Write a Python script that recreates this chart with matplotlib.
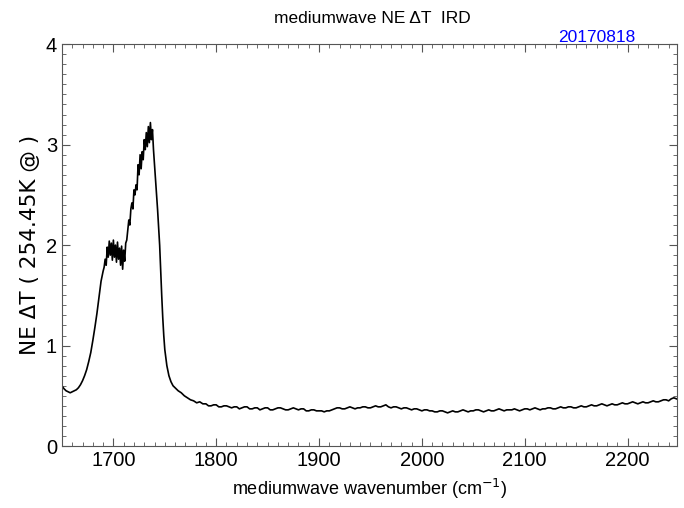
import numpy as np
import matplotlib
matplotlib.use('Agg')
import matplotlib.pyplot as plt
from matplotlib.ticker import MultipleLocator

# wavenumber (cm-1) and NE dT values
wn_peak = [1650, 1652, 1654, 1656, 1658, 1660, 1662, 1664, 1666, 1668, 1670, 1672, 1674, 1676, 1678,
           1680, 1682, 1684, 1686, 1688, 1690,
           1691, 1692, 1693, 1694, 1695, 1696, 1697, 1698, 1699, 1700, 1701, 1702, 1703, 1704, 1705,
           1706, 1707, 1708, 1709, 1710, 1711, 1712, 1713,
           1714, 1715, 1716, 1717, 1718, 1719, 1720, 1721, 1722, 1723, 1724, 1725, 1726, 1727, 1728,
           1729, 1730, 1731, 1732, 1733, 1734, 1735, 1736, 1737, 1738, 1739, 1740, 1741, 1742, 1743,
           1744, 1745, 1746, 1747, 1748, 1749, 1750, 1752, 1754, 1756, 1758, 1760, 1763, 1766, 1769,
           1772, 1775, 1778, 1781, 1784, 1787]
ne_peak = [0.60, 0.57, 0.55, 0.54, 0.53, 0.54, 0.55, 0.56, 0.58, 0.61, 0.65, 0.70, 0.76, 0.84, 0.93,
           1.05, 1.18, 1.32, 1.48, 1.64, 1.74,
           1.78, 1.86, 1.80, 1.98, 1.88, 2.04, 1.90, 2.02, 1.85, 2.05, 1.88, 2.00, 1.83, 2.03, 1.86,
           1.97, 1.80, 1.99, 1.76, 1.95, 1.84, 2.02, 2.05,
           2.15, 2.25, 2.20, 2.36, 2.42, 2.36, 2.55, 2.50, 2.60, 2.55, 2.80, 2.70, 2.90, 2.76, 2.93,
           2.85, 3.05, 2.95, 3.12, 2.98, 3.18, 3.02, 3.22, 3.05, 3.15, 2.95, 2.80, 2.65, 2.50, 2.35,
           2.18, 2.00, 1.75, 1.50, 1.28, 1.10, 0.96, 0.80, 0.70, 0.64, 0.60, 0.58, 0.55, 0.53, 0.50,
           0.48, 0.46, 0.45, 0.43, 0.44, 0.42]

# baseline, 5 cm-1 grid
wn_base = list(range(1790, 2255, 5))
ne_base = [0.42, 0.40, 0.41, 0.39, 0.40, 0.38, 0.39, 0.38, 0.39, 0.37, 0.38, 0.37, 0.38, 0.36, 0.38,
           0.37, 0.36, 0.38, 0.36, 0.37, 0.35, 0.36, 0.35, 0.34, 0.35, 0.37, 0.38, 0.37, 0.39, 0.37,
           0.38, 0.39, 0.38, 0.40, 0.39, 0.41, 0.38, 0.39, 0.37, 0.38, 0.36, 0.37, 0.35, 0.36, 0.35,
           0.34, 0.35, 0.33, 0.35, 0.34, 0.36, 0.34, 0.35, 0.36, 0.34, 0.36, 0.35, 0.37, 0.35, 0.36,
           0.37, 0.35, 0.37, 0.36, 0.38, 0.36, 0.37, 0.38, 0.37, 0.39, 0.38, 0.39, 0.38, 0.40, 0.39,
           0.41, 0.40, 0.42, 0.40, 0.42, 0.41, 0.43, 0.42, 0.44, 0.42, 0.44, 0.43, 0.45, 0.44, 0.46,
           0.45, 0.48, 0.46]
# baseline, in-between points (small noise spikes)
wn_mid = [w + 2.5 for w in range(1790, 2250, 5)]
ne_mid = [0.40, 0.41, 0.39, 0.40, 0.39, 0.39, 0.37, 0.39, 0.37, 0.38, 0.36, 0.38, 0.36, 0.37, 0.38,
          0.36, 0.37, 0.37, 0.37, 0.35, 0.36, 0.35, 0.35, 0.35, 0.36, 0.38, 0.37, 0.38, 0.38, 0.38,
          0.39, 0.38, 0.39, 0.39, 0.40, 0.39, 0.39, 0.38, 0.38, 0.37, 0.37, 0.36, 0.36, 0.35, 0.34,
          0.35, 0.34, 0.34, 0.34, 0.35, 0.35, 0.35, 0.36, 0.35, 0.35, 0.35, 0.36, 0.36, 0.36, 0.36,
          0.36, 0.36, 0.37, 0.37, 0.37, 0.37, 0.38, 0.37, 0.38, 0.38, 0.39, 0.38, 0.39, 0.39, 0.40,
          0.40, 0.41, 0.41, 0.41, 0.41, 0.42, 0.42, 0.43, 0.43, 0.43, 0.43, 0.44, 0.44, 0.45, 0.46,
          0.47, 0.47]

wn = np.array(wn_peak + wn_base + wn_mid, dtype=float)
ne = np.array(ne_peak + ne_base + ne_mid)
order = np.argsort(wn, kind='stable')
wn, ne = wn[order], ne[order]

narrow = ['DejaVu Sans Condensed', 'Liberation Sans Narrow', 'Liberation Sans', 'DejaVu Sans']
plt.rcParams['font.family'] = narrow

fig = plt.figure(figsize=(6.84, 5.08), dpi=100)
ax = fig.add_axes([0.0906, 0.122, 0.899, 0.791])
ax.plot(wn, ne, color='black', linewidth=1.2)

ax.set_xlim(1650, 2248)
ax.set_ylim(0, 4)
ax.xaxis.set_major_locator(MultipleLocator(100))
ax.xaxis.set_minor_locator(MultipleLocator(10))
ax.yaxis.set_major_locator(MultipleLocator(1))
ax.yaxis.set_minor_locator(MultipleLocator(0.1))
ax.tick_params(which='both', direction='in', top=True, right=True, colors='#555555',
               labelcolor='black', labelsize=14.5)
ax.tick_params(which='major', length=6)
ax.tick_params(which='minor', length=3)
for s in ax.spines.values():
    s.set_color('#555555')

ax.set_xlabel('mediumwave wavenumber (cm$^{-1}$)', fontsize=13, labelpad=5)
ax.set_ylabel('NE \u0394T ( 254.45K @ )', fontsize=15.5, family='DejaVu Sans', labelpad=4)
fig.text(0.544, 0.963, 'mediumwave NE \u0394T  IRD', ha='center', va='center', fontsize=12.5)
fig.text(0.873, 0.927, '20170818', ha='center', va='center', fontsize=12.5, color='blue')

fig.savefig('out.png', dpi=100)
